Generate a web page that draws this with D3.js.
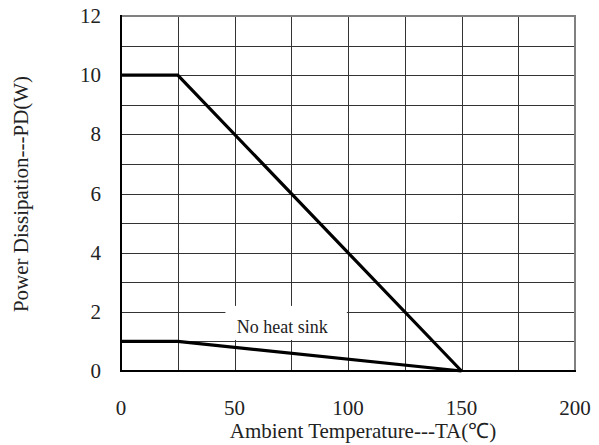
<!DOCTYPE html>
<html><head><meta charset="utf-8">
<script src="https://cdn.jsdelivr.net/npm/d3@7"></script>
</head>
<body style="margin:0"><svg id="c" width="599" height="445" font-family="Liberation Serif"></svg>
<script>
const xTicks = [0, 50, 100, 150, 200];
const yTicks = [0, 2, 4, 6, 8, 10, 12];
const withSinkT = [0, 25, 150];
const withSinkP = [10, 10, 0];
const noSinkT = [0, 25, 150];
const noSinkP = [1, 1, 0];
const noSinkLabel = "No heat sink";
const xTitle = "Ambient Temperature---TA(\u2103)";
const yTitle = "Power Dissipation---PD(W)";

const FONT = "Liberation Serif";
const svg = d3.select("#c");
const L = 121, R = 575, T = 16, B = 371;
const x = d3.scaleLinear().domain([0, 200]).range([L, R]);
const y = d3.scaleLinear().domain([0, 12]).range([B, T]);

// grid
const g = svg.append("g");
g.selectAll(".vg").data(d3.range(25, 200, 25)).join("line")
  .attr("x1", d => Math.round(x(d)) + 0.5).attr("x2", d => Math.round(x(d)) + 0.5)
  .attr("y1", T).attr("y2", B).attr("stroke", "#333").attr("stroke-width", 1);
g.selectAll(".hg").data(d3.range(1, 12, 1)).join("line")
  .attr("y1", d => Math.round(y(d)) + 0.5).attr("y2", d => Math.round(y(d)) + 0.5)
  .attr("x1", L).attr("x2", R).attr("stroke", "#333").attr("stroke-width", 1);

// label box
svg.append("rect").attr("x", x(46)).attr("y", y(2.2)).attr("width", x(99.5) - x(46)).attr("height", y(1.05) - y(2.2)).attr("fill", "#fff");
svg.append("text").attr("x", x(71)).attr("y", y(1.3)).attr("text-anchor", "middle")
  .attr("font-family", FONT).attr("fill", "#222").attr("font-size", 18).text(noSinkLabel);

// border
svg.append("line").attr("x1", L).attr("x2", R + 1).attr("y1", T).attr("y2", T).attr("stroke", "#808080").attr("stroke-width", 2);
svg.append("line").attr("x1", R).attr("x2", R).attr("y1", T).attr("y2", B).attr("stroke", "#808080").attr("stroke-width", 2);
svg.append("line").attr("x1", L).attr("x2", L).attr("y1", T - 1).attr("y2", B + 1).attr("stroke", "#000").attr("stroke-width", 2);
svg.append("line").attr("x1", L).attr("x2", R + 1).attr("y1", B).attr("y2", B).attr("stroke", "#000").attr("stroke-width", 2);

// curves
const line = d3.line().x(d => x(d[0])).y(d => y(d[1]));
svg.append("path").datum(withSinkT.map((t, i) => [t, withSinkP[i]])).attr("d", line)
  .attr("fill", "none").attr("stroke", "#000").attr("stroke-width", 3.2).attr("stroke-linejoin", "miter");
svg.append("path").datum(noSinkT.map((t, i) => [t, noSinkP[i]])).attr("d", line)
  .attr("fill", "none").attr("stroke", "#000").attr("stroke-width", 3.2);

// tick labels positioned through the scales
svg.append("g").selectAll("text").data(xTicks).join("text")
  .attr("x", d => x(d)).attr("y", B + 44).attr("text-anchor", "middle")
  .attr("font-family", FONT).attr("font-size", 21).attr("fill", "#222").text(d => d);
svg.append("g").selectAll("text").data(yTicks).join("text")
  .attr("x", L - 20).attr("y", d => y(d) + 7).attr("text-anchor", "end")
  .attr("font-family", FONT).attr("font-size", 21).attr("fill", "#222").text(d => d);

svg.append("text").attr("x", 363).attr("y", 438).attr("text-anchor", "middle")
  .attr("font-family", FONT).attr("fill", "#222").attr("font-size", 21).text(xTitle);
svg.append("text").attr("transform", "translate(28,194) rotate(-90)").attr("text-anchor", "middle")
  .attr("font-family", FONT).attr("fill", "#222").attr("font-size", 21).text(yTitle);
</script></body></html>
